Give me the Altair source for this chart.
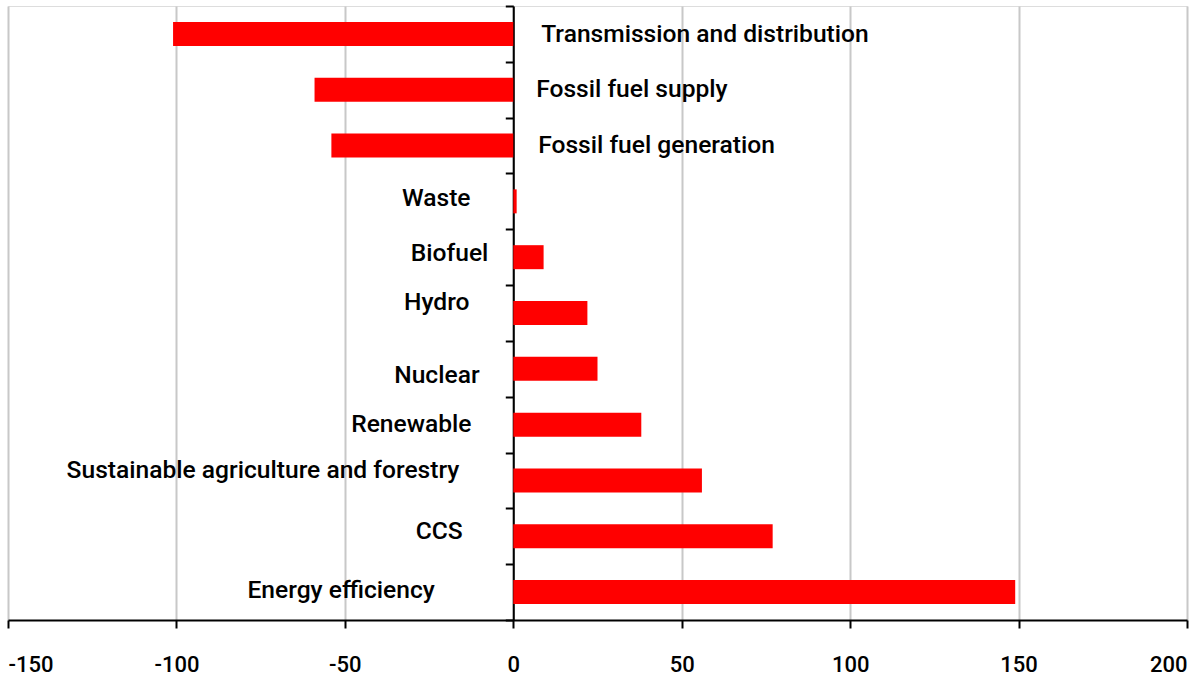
import altair as alt
import pandas as pd

# Change by sector (negative = reduction)
sectors = [
    "Transmission and distribution",
    "Fossil fuel supply",
    "Fossil fuel generation",
    "Waste",
    "Biofuel",
    "Hydro",
    "Nuclear",
    "Renewable",
    "Sustainable agriculture and forestry",
    "CCS",
    "Energy efficiency",
]
values = [-101, -59, -54, 1, 9, 22, 25, 38, 56, 77, 149]

# Where each data label sits (x in data units), its alignment and vertical nudge
label_x = [8.3, 6.8, 7.4, -12.7, -7.4, -13, -10, -12.4, -16, -15, -23.3]
label_align = ["left", "left", "left", "right", "right", "right", "right",
               "right", "right", "right", "right"]
label_dy = [1, 0, 0, -2, -3, -10, 7, 0, -9, -4, -1]

x_ticks = [-150, -100, -50, 0, 50, 100, 150, 200]
x_min, x_max = -150, 200

W, H = 1179, 614
FONT = "Roboto"

df = pd.DataFrame({"sector": sectors, "value": values})

x_scale = alt.Scale(domain=[x_min, x_max], nice=False, zero=False)
y_scale = alt.Scale(domain=sectors, paddingInner=0.0, paddingOuter=0.0)

# The category axis is drawn at x = 0
zero_offset = -W * (0 - x_min) / (x_max - x_min)

bars = alt.Chart(df).mark_bar(color="#ff0000", size=24).encode(
    x=alt.X(
        "value:Q",
        scale=x_scale,
        axis=alt.Axis(
            values=x_ticks,
            title=None,
            grid=True,
            gridColor="#c8c8c8",
            gridWidth=2,
            domainColor="black",
            domainWidth=2,
            tickColor="black",
            tickWidth=2,
            tickSize=8,
            labelExpr="'' + datum.value",
            labelFont=FONT,
            labelFontWeight=500,
            labelFontSize=22,
            labelColor="black",
            labelPadding=26,
            labelFlush=True,
        ),
    ),
    y=alt.Y(
        "sector:N",
        scale=y_scale,
        sort=sectors,
        axis=alt.Axis(
            title=None,
            labels=False,
            grid=False,
            offset=zero_offset,
            domainColor="black",
            domainWidth=2,
            tickColor="black",
            tickWidth=2,
            tickSize=8,
            tickBand="extent",
        ),
    ),
)

layers = [bars]
for name, lx, al, dy in zip(sectors, label_x, label_align, label_dy):
    ldf = pd.DataFrame({"sector": [name], "lx": [lx]})
    layers.append(
        alt.Chart(ldf).mark_text(
            align=al, baseline="middle", dy=dy,
            font=FONT, fontWeight=500, fontSize=24.6, color="black",
        ).encode(
            x=alt.X("lx:Q", scale=x_scale),
            y=alt.Y("sector:N", scale=y_scale, sort=sectors),
            text="sector:N",
        )
    )

chart = alt.layer(*layers).properties(
    width=W,
    height=H,
    autosize=alt.AutoSizeParams(type="none"),
    padding={"left": 8, "top": 6, "right": 2, "bottom": 60},
).configure_view(stroke=None).configure(background="white")

chart.save("out.html", embed_options={"renderer": "svg", "actions": False})
